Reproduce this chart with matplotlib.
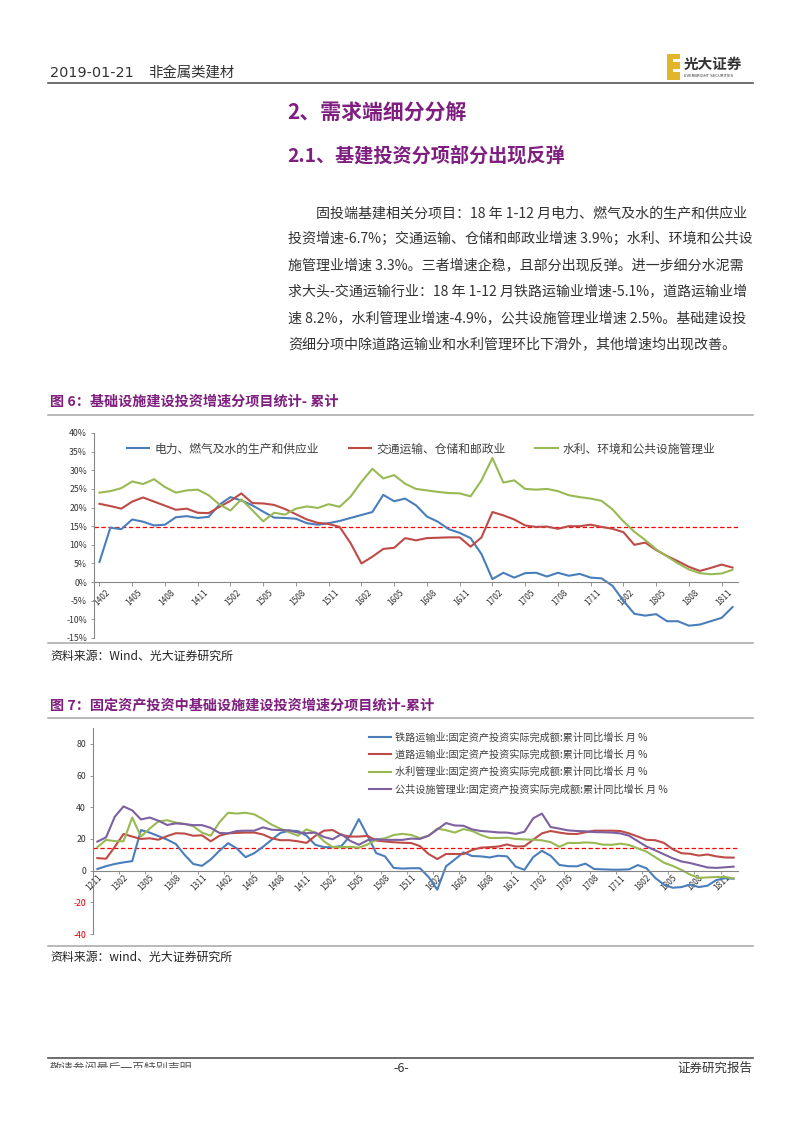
import matplotlib
matplotlib.use("Agg")
import matplotlib.pyplot as plt
import matplotlib.transforms as mtransforms
from matplotlib.lines import Line2D
from matplotlib.patches import Rectangle

plt.rcParams["font.family"] = ["Noto Sans CJK SC", "DejaVu Sans"]

W, H = 802, 1133

# 图6：1402-1812 月度累计同比（%）
power = [5.4, 14.6, 14.2, 16.8, 16.2, 15.2, 15.4, 17.4, 17.7, 17.2,
         17.5, 20.8, 22.8, 21.9, 20.6, 18.9, 17.3, 17.2, 17.0, 15.8,
         15.4, 15.8, 16.4, 17.2, 18.0, 18.8, 23.4, 21.7, 22.4, 20.6,
         17.6, 16.2, 14.2, 13.2, 11.8, 7.5, 0.8, 2.5, 1.2, 2.4,
         2.5, 1.5, 2.5, 1.7, 2.2, 1.2, 1.0, -1.0, -5.0, -8.5,
         -9.0, -8.6, -10.5, -10.5, -11.7, -11.4, -10.5, -9.6, -6.7]
transport = [21.0, 20.4, 19.7, 21.6, 22.7, 21.6, 20.5, 19.4, 19.7, 18.6,
             18.5, 20.2, 21.8, 23.8, 21.2, 21.1, 20.7, 19.6, 18.2, 16.8,
             15.9, 15.6, 14.8, 10.5, 5.0, 6.8, 8.9, 9.2, 11.8, 11.2,
             11.8, 11.9, 12.0, 12.0, 9.5, 12.0, 18.8, 17.9, 16.8, 15.2,
             14.8, 14.9, 14.3, 15.0, 15.0, 15.4, 14.8, 14.3, 13.4, 10.0,
             10.6, 8.6, 7.0, 5.6, 4.1, 3.0, 3.8, 4.7, 3.9]
water_env = [24.0, 24.4, 25.2, 27.0, 26.3, 27.6, 25.5, 24.0, 24.6, 24.8,
             23.3, 20.8, 19.2, 22.2, 19.3, 16.3, 18.6, 18.1, 19.7, 20.3,
             19.9, 20.9, 20.2, 22.9, 26.9, 30.4, 27.8, 28.7, 26.4, 25.0,
             24.6, 24.2, 23.9, 23.8, 23.0, 27.3, 33.3, 26.7, 27.3, 25.0,
             24.8, 25.0, 24.4, 23.3, 22.8, 22.4, 21.8, 19.5, 16.3, 13.5,
             11.3, 8.8, 6.9, 5.0, 3.4, 2.4, 2.1, 2.3, 3.3]
fig6_ticks = ["1402", "1405", "1408", "1411", "1502", "1505", "1508", "1511",
              "1602", "1605", "1608", "1611", "1702", "1705", "1708", "1711",
              "1802", "1805", "1808", "1811"]
fig6_names = ["电力、燃气及水的生产和供应业", "交通运输、仓储和邮政业",
              "水利、环境和公共设施管理业"]
fig6_ref = 14.7

# 图7：1211-1812 月度累计同比（%）
railway = [1.0, 2.8, 4.2, 5.2, 6.0, 25.6, 24.0, 21.8, 19.6, 16.8,
           10.0, 4.2, 3.0, 7.0, 12.5, 17.3, 14.0, 8.5, 11.0, 15.0,
           19.5, 23.8, 25.2, 25.0, 22.0, 16.3, 14.8, 14.8, 15.5, 22.0,
           32.5, 22.0, 11.0, 9.0, 1.7, 1.3, 1.5, 1.5, -4.0, -12.0,
           2.7, 7.0, 11.5, 9.2, 9.0, 8.3, 9.4, 9.0, 2.5, 0.5,
           8.5, 12.5, 9.4, 3.6, 2.8, 2.7, 4.4, 1.0, 0.8, 0.6,
           0.6, 0.8, 3.5, 1.5, -4.6, -8.8, -10.8, -10.4, -8.8, -10.4,
           -9.5, -6.0, -4.8, -5.1]
road = [7.9, 7.5, 15.0, 23.1, 21.5, 20.0, 20.4, 19.5, 21.8, 23.6,
        23.4, 22.0, 22.3, 18.5, 22.0, 23.5, 23.8, 24.0, 24.0, 22.8,
        20.4, 19.2, 19.2, 18.5, 17.5, 21.9, 25.2, 25.6, 22.5, 21.5,
        21.5, 21.9, 19.0, 18.4, 17.9, 17.6, 17.4, 15.5, 10.5, 7.3,
        10.5, 10.5, 10.4, 13.0, 14.5, 14.8, 15.2, 16.5, 15.2, 15.4,
        19.5, 23.5, 25.0, 24.0, 23.2, 23.1, 24.2, 25.2, 25.2, 25.2,
        25.0, 23.5, 21.5, 19.4, 19.2, 17.5, 13.5, 11.0, 10.6, 9.5,
        10.2, 9.0, 8.3, 8.2]
water_mgmt = [14.8, 19.4, 18.6, 18.5, 33.5, 21.5, 26.5, 31.0, 31.8, 30.3,
              29.5, 28.0, 24.0, 22.0, 30.5, 36.5, 36.0, 36.5, 35.5, 32.5,
              29.0, 26.5, 24.2, 22.0, 26.0, 24.0, 18.5, 14.8, 14.8, 15.0,
              14.5, 16.5, 19.5, 20.4, 22.5, 23.2, 22.5, 20.5, 22.0, 26.5,
              25.5, 24.0, 26.2, 25.0, 22.5, 20.6, 20.6, 20.8, 20.0, 19.7,
              19.5, 19.1, 18.0, 15.0, 17.5, 17.4, 17.8, 17.5, 16.4, 16.3,
              17.0, 16.2, 14.0, 12.0, 8.5, 5.0, 3.0, 0.5, -2.5, -4.6,
              -4.3, -4.0, -4.0, -4.9]
public = [18.3, 21.0, 34.0, 40.5, 38.0, 32.3, 33.5, 31.5, 28.8, 29.8,
          29.4, 28.7, 28.7, 27.0, 23.8, 23.5, 25.0, 25.2, 25.2, 27.3,
          25.8, 25.6, 25.4, 24.0, 23.6, 24.0, 21.2, 19.8, 23.0, 18.8,
          16.3, 19.2, 19.8, 19.4, 19.4, 19.4, 20.2, 20.0, 22.0, 26.0,
          30.0, 28.5, 28.3, 26.0, 25.0, 24.6, 24.1, 24.0, 23.2, 24.5,
          33.0, 36.0, 27.5, 26.5, 25.4, 25.0, 24.8, 24.3, 24.2, 24.0,
          23.5, 22.0, 18.6, 15.2, 12.8, 10.3, 7.8, 5.8, 4.8, 3.4,
          2.0, 1.7, 2.1, 2.5]
fig7_ticks = ["1211", "1302", "1305", "1308", "1311", "1402", "1405", "1408",
              "1411", "1502", "1505", "1508", "1511", "1602", "1605", "1608",
              "1611", "1702", "1705", "1708", "1711", "1802", "1805", "1808",
              "1811"]
fig7_names = ["铁路运输业:固定资产投资实际完成额:累计同比增长 月 %",
              "道路运输业:固定资产投资实际完成额:累计同比增长 月 %",
              "水利管理业:固定资产投资实际完成额:累计同比增长 月 %",
              "公共设施管理业:固定资产投资实际完成额:累计同比增长 月 %"]
fig7_ref = 14.2

body_lines = [
    "固投端基建相关分项目：18 年 1-12 月电力、燃气及水的生产和供应业",
    "投资增速-6.7%；交通运输、仓储和邮政业增速 3.9%；水利、环境和公共设",
    "施管理业增速 3.3%。三者增速企稳，且部分出现反弹。进一步细分水泥需",
    "求大头-交通运输行业：18 年 1-12 月铁路运输业增速-5.1%，道路运输业增",
    "速 8.2%，水利管理业增速-4.9%，公共设施管理业增速 2.5%。基础建设投",
    "资细分项中除道路运输业和水利管理环比下滑外，其他增速均出现改善。",
]

BLUE, RED, GREEN, PURPLE = "#4A7EBB", "#BE4B48", "#98B954", "#7D60A0"
HEAD = "#7E1F80"
AXIS = "#868686"
RULE = "#A6A6A6"


def fx(x):
    return x / W


def fy(y):
    return 1 - y / H


def put(fig, x, y, s, **kw):
    kw.setdefault("va", "center")
    return fig.text(fx(x), fy(y), s, **kw)


def rule(fig, y, color=RULE, lw=1.1, x0=48, x1=753):
    fig.add_artist(Line2D([fx(x0), fx(x1)], [fy(y), fy(y)],
                          transform=fig.transFigure, color=color, lw=lw))


def base_axes(fig, left, top, right, bottom):
    ax = fig.add_axes([fx(left), fy(bottom), (right - left) / W, (bottom - top) / H])
    ax.patch.set_alpha(0)
    for s in ("top", "right"):
        ax.spines[s].set_visible(False)
    ax.spines["bottom"].set_position(("data", 0))
    for s in ("left", "bottom"):
        ax.spines[s].set_color(AXIS)
        ax.spines[s].set_linewidth(0.8)
    ax.tick_params(axis="y", direction="out", length=2.5, width=0.6, color=AXIS,
                   labelsize=6.3, labelcolor="#333333", pad=2.5)
    return ax


fig = plt.figure(figsize=(W / 100, H / 100), dpi=100)
fig.patch.set_facecolor("white")

# 页眉
put(fig, 50, 73, "2019-01-21", fontsize=10.4, color="#333333", family=["DejaVu Sans"])
put(fig, 148, 73, "非金属类建材", fontsize=10.4, color="#333333")
rule(fig, 83, color="#555555", lw=1.2)
fig.add_artist(Rectangle((fx(667), fy(80)), 13 / W, 26 / H, transform=fig.transFigure,
                         color="#E3B52A", lw=0))
fig.add_artist(Rectangle((fx(673), fy(72)), 7 / W, 3 / H, transform=fig.transFigure,
                         color="white", lw=0))
fig.add_artist(Rectangle((fx(673), fy(62)), 7 / W, 3 / H, transform=fig.transFigure,
                         color="white", lw=0))
put(fig, 684, 64, "光大证券", fontsize=10.5, weight="bold", color="#333333")
put(fig, 684, 76, "EVERBRIGHT SECURITIES", fontsize=2.8, color="#333333",
    family=["DejaVu Sans"])

# 标题与正文
put(fig, 287, 113, "2、需求端细分分解", fontsize=15, weight="bold", color=HEAD)
put(fig, 287, 156, "2.1、基建投资分项部分出现反弹", fontsize=13.8, weight="bold", color=HEAD)
for k, line in enumerate(body_lines):
    put(fig, 316 if k == 0 else 288, 213 + 26.2 * k, line, fontsize=10.1, color="#333333")

# 图6
put(fig, 50, 402, "图 6：基础设施建设投资增速分项目统计- 累计", fontsize=10.2, weight="bold",
    color=HEAD)
rule(fig, 415)
rule(fig, 643)
put(fig, 50, 656, "资料来源：Wind、光大证券研究所", fontsize=8.6, color="#222222")

ax1 = base_axes(fig, 94, 433, 738, 638)
x1 = list(range(len(power)))
for vals, color, name in zip([power, transport, water_env], [BLUE, RED, GREEN], fig6_names):
    ax1.plot(x1, vals, color=color, lw=1.5, label=name, solid_joinstyle="round")
ax1.axhline(fig6_ref, color="#FF0000", lw=0.9, ls=(0, (3.5, 2)), zorder=1)
ax1.set_xlim(-0.5, len(power) - 0.5)
ax1.set_ylim(-15, 40)
yt1 = list(range(-15, 41, 5))
ax1.set_yticks(yt1, [f"{v}%" for v in yt1])
ax1.set_xticks(range(0, len(power), 3), fig6_ticks, rotation=45, ha="right", va="top",
               rotation_mode="anchor")
ax1.tick_params(axis="x", direction="out", length=3, width=0.6, color=AXIS,
                labelsize=6, labelcolor="#333333", pad=1)
shift1 = mtransforms.ScaledTranslation(4 / 72, 0, fig.dpi_scale_trans)
for lbl in ax1.get_xticklabels():
    lbl.set_transform(lbl.get_transform() + shift1)
ax1.legend(loc="center left", bbox_to_anchor=(fx(127), fy(449)), bbox_transform=fig.transFigure,
           ncol=3, frameon=False, fontsize=8.5, handlelength=1.9, handletextpad=0.45,
           columnspacing=2.5, borderpad=0, borderaxespad=0, labelcolor="#404040")

# 图7
put(fig, 50, 706, "图 7：固定资产投资中基础设施建设投资增速分项目统计-累计", fontsize=10.2,
    weight="bold", color=HEAD)
rule(fig, 718)
rule(fig, 946)
put(fig, 50, 957, "资料来源：wind、光大证券研究所", fontsize=8.6, color="#222222")

ax2 = base_axes(fig, 93, 728, 738, 934)
x2 = list(range(len(railway)))
for vals, color, name in zip([railway, road, water_mgmt, public],
                             [BLUE, RED, GREEN, PURPLE], fig7_names):
    ax2.plot(x2, vals, color=color, lw=1.5, label=name, solid_joinstyle="round")
ax2.axhline(fig7_ref, color="#FF0000", lw=0.9, ls=(0, (3.5, 2)), zorder=1)
ax2.set_xlim(-0.5, len(railway) - 0.5)
ax2.set_ylim(-40, 90)
yt2 = list(range(-40, 81, 20))
ax2.set_yticks(yt2, [str(v) for v in yt2])
for lbl, v in zip(ax2.get_yticklabels(), yt2):
    if v < 0:
        lbl.set_color("#E00000")
ax2.set_xticks(range(0, len(railway), 3), fig7_ticks, rotation=45, ha="right", va="top",
               rotation_mode="anchor")
ax2.set_xticks([v - 0.5 for v in range(0, len(railway) + 1, 3)], minor=True)
ax2.tick_params(axis="x", which="major", length=0, labelsize=6, labelcolor="#333333", pad=2)
ax2.tick_params(axis="x", which="minor", direction="out", length=2.5, width=0.6, color=AXIS)
ax2.legend(loc="upper left", bbox_to_anchor=(fx(369), fy(732)), bbox_transform=fig.transFigure,
           ncol=1, frameon=False, fontsize=7.3, handlelength=2.2, handletextpad=0.35,
           labelspacing=0.7, borderpad=0, borderaxespad=0, labelcolor="#404040")

# 页脚
rule(fig, 1058, color="#555555", lw=1.2)
note = put(fig, 50, 1068, "敬请参阅最后一页特别声明", fontsize=8.6, color="#555555")
note.set_clip_path(Rectangle((0, fy(1068)), 1, 1, transform=fig.transFigure))
put(fig, 401, 1068, "-6-", fontsize=9, color="#333333", ha="center")
put(fig, 752, 1068, "证券研究报告", fontsize=9, color="#333333", ha="right")

fig.savefig("out.png", dpi=100, facecolor="white")
